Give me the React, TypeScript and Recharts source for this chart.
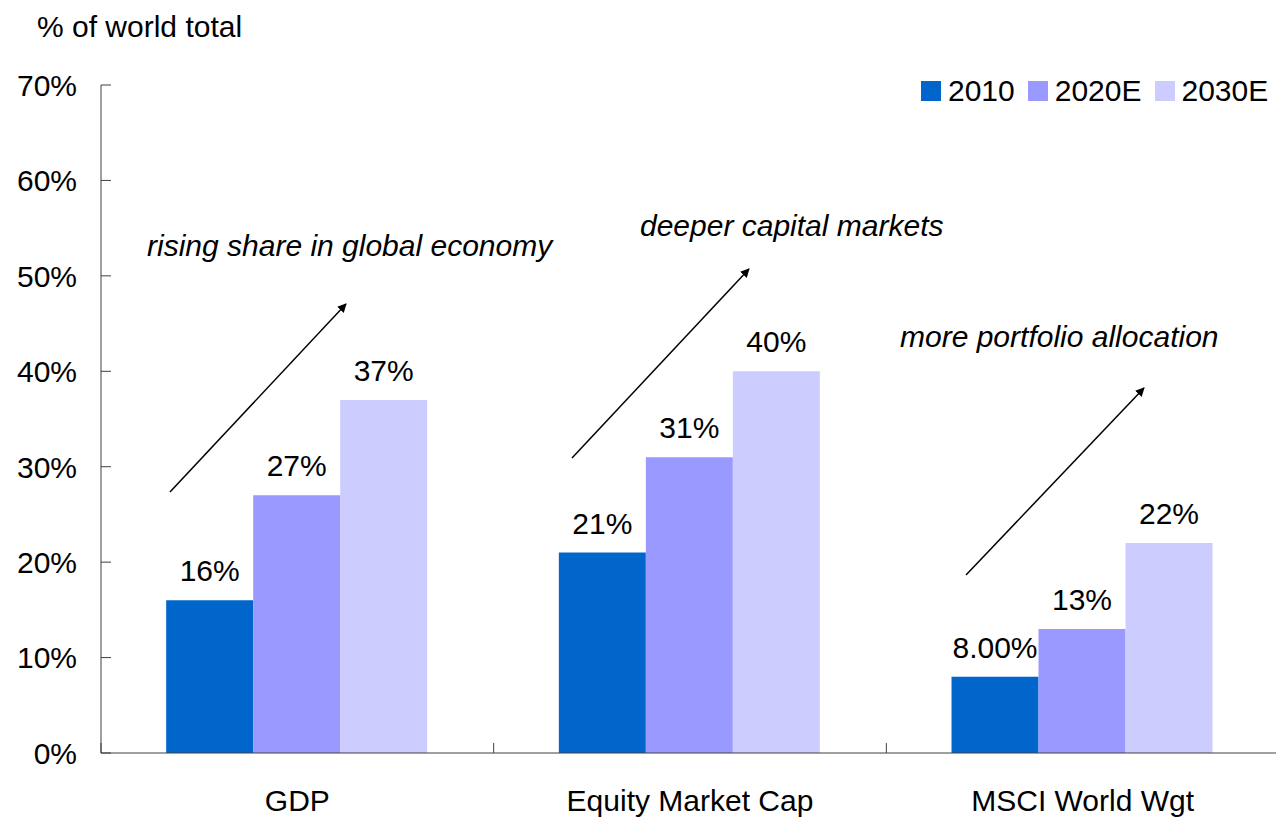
import React from 'react'
import { BarChart, Bar, XAxis, YAxis, LabelList } from 'recharts'

const categories = ['GDP', 'Equity Market Cap', 'MSCI World Wgt']
const series = ['2010', '2020E', '2030E']
const values2010 = [16, 21, 8]
const values2020 = [27, 31, 13]
const values2030 = [37, 40, 22]
const labels2010 = ['16%', '21%', '8.00%']
const labels2020 = ['27%', '31%', '13%']
const labels2030 = ['37%', '40%', '22%']
const yTicks = [0, 10, 20, 30, 40, 50, 60, 70]

const colors = ['#0066CC', '#9999FF', '#CCCCFF']
const FONT = '"Liberation Sans", Arial, sans-serif'
const FS = 30

const CHART_W = 1280
const CHART_H = 818
const Y_AXIS_W = 101
const X_AXIS_H = 65
const MARGIN = { top: 85, right: 1, left: 0, bottom: 0 }
const PLOT_W = CHART_W - Y_AXIS_W - MARGIN.left - MARGIN.right
const BAND = PLOT_W / categories.length
const AXIS_COLOR = '#404040'

const data = categories.map((category, i) => ({
  category,
  v2010: values2010[i],
  v2020: values2020[i],
  v2030: values2030[i],
  l2010: labels2010[i],
  l2020: labels2020[i],
  l2030: labels2030[i],
}))

// annotation text + arrows (not data marks)
const notes = [
  { text: 'rising share in global economy', x: 147, y: 256, arrow: [170, 492, 346, 304] },
  { text: 'deeper capital markets', x: 640, y: 236, arrow: [572, 458, 749, 269] },
  { text: 'more portfolio allocation', x: 900, y: 347, arrow: [966, 575, 1144, 388] },
]

// eslint-disable-next-line @typescript-eslint/no-explicit-any
const YTick = ({ x, y, payload }: any) => (
  <g>
    <line x1={x + 24} x2={x + 34} y1={y} y2={y} stroke={AXIS_COLOR} strokeWidth={1} />
    <text x={x} y={y} dy="0.36em" textAnchor="end" fontSize={FS} fontFamily={FONT} fill="#000">
      {`${payload.value}%`}
    </text>
  </g>
)

// eslint-disable-next-line @typescript-eslint/no-explicit-any
const XTick = ({ x, y, payload }: any) => (
  <g>
    <line x1={x - BAND / 2} x2={x - BAND / 2} y1={y} y2={y - 10} stroke={AXIS_COLOR} strokeWidth={1} />
    <text x={x} y={y + 58} textAnchor="middle" fontSize={FS} fontFamily={FONT} fill="#000">
      {payload.value}
    </text>
  </g>
)

const App = () => {
  return (
    <div
      style={{
        position: 'absolute',
        left: 0,
        top: 0,
        width: 1276,
        height: 818,
        overflow: 'hidden',
        background: '#fff',
        fontFamily: FONT,
      }}
    >
      <BarChart
        width={CHART_W}
        height={CHART_H}
        data={data}
        margin={MARGIN}
        barCategoryGap="16.6%"
        barGap={0}
      >
        <XAxis
          dataKey="category"
          stroke={AXIS_COLOR}
          tickLine={false}
          tickSize={0}
          tickMargin={0}
          height={X_AXIS_H}
          tick={<XTick />}
          interval={0}
        />
        <YAxis
          domain={[0, 70]}
          ticks={yTicks}
          width={Y_AXIS_W}
          stroke={AXIS_COLOR}
          tickLine={false}
          tickSize={0}
          tickMargin={24}
          tick={<YTick />}
          interval={0}
        />
        <Bar dataKey="v2010" fill={colors[0]} isAnimationActive={false}>
          <LabelList dataKey="l2010" position="top" offset={19} fontSize={FS} fontFamily={FONT} fill="#000" />
        </Bar>
        <Bar dataKey="v2020" fill={colors[1]} isAnimationActive={false}>
          <LabelList dataKey="l2020" position="top" offset={19} fontSize={FS} fontFamily={FONT} fill="#000" />
        </Bar>
        <Bar dataKey="v2030" fill={colors[2]} isAnimationActive={false}>
          <LabelList dataKey="l2030" position="top" offset={19} fontSize={FS} fontFamily={FONT} fill="#000" />
        </Bar>
      </BarChart>

      <svg
        width={1276}
        height={818}
        style={{ position: 'absolute', left: 0, top: 0, pointerEvents: 'none' }}
      >
        <defs>
          <marker id="arrowHead" viewBox="0 0 10 10" refX="9" refY="5" markerWidth="9" markerHeight="9" markerUnits="userSpaceOnUse" orient="auto">
            <path d="M0,0 L10,5 L0,10 z" fill="#000" />
          </marker>
        </defs>
        <text x={37} y={37} fontSize={FS} fontFamily={FONT} fill="#000">
          % of world total
        </text>
        {notes.map((n) => (
          <g key={n.text}>
            <text x={n.x} y={n.y} fontSize={FS} fontStyle="italic" fontFamily={FONT} fill="#000">
              {n.text}
            </text>
            <line
              x1={n.arrow[0]}
              y1={n.arrow[1]}
              x2={n.arrow[2]}
              y2={n.arrow[3]}
              stroke="#000"
              strokeWidth={1.5}
              markerEnd="url(#arrowHead)"
            />
          </g>
        ))}
      </svg>

      <div
        style={{
          position: 'absolute',
          left: 921,
          top: 76,
          display: 'flex',
          alignItems: 'center',
          fontSize: FS,
          color: '#000',
          lineHeight: '30px',
        }}
      >
        {series.map((s, i) => (
          <div key={s} style={{ display: 'flex', alignItems: 'center', marginRight: 13 }}>
            <span style={{ width: 20, height: 20, background: colors[i], display: 'inline-block', marginRight: 7 }} />
            <span>{s}</span>
          </div>
        ))}
      </div>
    </div>
  )
}

export default App
